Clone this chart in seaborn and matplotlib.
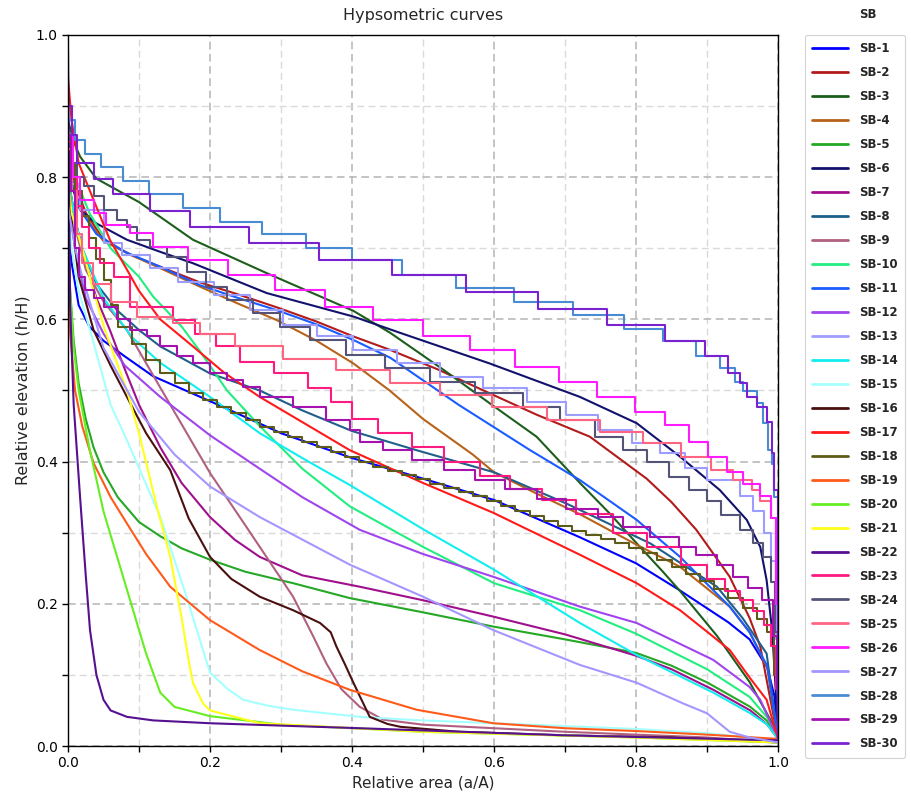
import matplotlib
matplotlib.use("Agg")
import matplotlib.pyplot as plt
from matplotlib.ticker import MultipleLocator
import seaborn as sns

# ---------------- data ----------------
# smooth curves: x = relative area, y = relative elevation
SB1_x = [0, 0.005, 0.015, 0.03, 0.05, 0.08, 0.12, 0.2, 0.3, 0.4, 0.49, 0.6, 0.72, 0.8, 0.86, 0.93, 0.96, 0.985, 0.995, 1.0]
SB1_y = [0.74, 0.68, 0.62, 0.59, 0.57, 0.548, 0.52, 0.485, 0.44, 0.405, 0.379, 0.346, 0.294, 0.257, 0.22, 0.174, 0.15, 0.11, 0.07, 0.01]
SB2_x = [0, 0.01, 0.025, 0.05, 0.09, 0.13, 0.186, 0.24, 0.294, 0.35, 0.402, 0.454, 0.52, 0.594, 0.66, 0.735, 0.815, 0.85, 0.885, 0.932, 0.96, 0.975, 0.993, 1.0]
SB2_y = [0.84, 0.79, 0.75, 0.712, 0.69, 0.674, 0.652, 0.635, 0.617, 0.597, 0.576, 0.557, 0.53, 0.496, 0.466, 0.435, 0.376, 0.343, 0.304, 0.238, 0.18, 0.14, 0.046, 0.01]
SB3_x = [0, 0.008, 0.017, 0.04, 0.1, 0.176, 0.28, 0.402, 0.454, 0.529, 0.594, 0.66, 0.721, 0.763, 0.801, 0.838, 0.862, 0.914, 0.96, 0.993, 1.0]
SB3_y = [0.88, 0.85, 0.829, 0.798, 0.765, 0.712, 0.665, 0.612, 0.581, 0.529, 0.482, 0.435, 0.37, 0.327, 0.285, 0.245, 0.218, 0.155, 0.09, 0.03, 0.01]
SB4_x = [0, 0.01, 0.02, 0.05, 0.09, 0.13, 0.186, 0.24, 0.294, 0.35, 0.402, 0.453, 0.5, 0.57, 0.6, 0.66, 0.721, 0.801, 0.862, 0.932, 0.96, 0.985, 1.0]
SB4_y = [0.82, 0.78, 0.75, 0.71, 0.69, 0.672, 0.646, 0.622, 0.599, 0.57, 0.538, 0.5, 0.46, 0.41, 0.385, 0.355, 0.326, 0.283, 0.252, 0.196, 0.16, 0.11, 0.01]
SB5_x = [0, 0.003, 0.008, 0.015, 0.025, 0.036, 0.05, 0.07, 0.1, 0.13, 0.16, 0.2, 0.25, 0.317, 0.397, 0.5, 0.599, 0.7, 0.8, 0.85, 0.901, 0.961, 0.985, 1.0]
SB5_y = [0.72, 0.64, 0.57, 0.51, 0.46, 0.42, 0.385, 0.35, 0.315, 0.295, 0.278, 0.262, 0.245, 0.229, 0.208, 0.188, 0.168, 0.15, 0.131, 0.113, 0.089, 0.055, 0.035, 0.01]
SB6_x = [0, 0.008, 0.017, 0.04, 0.083, 0.13, 0.176, 0.28, 0.402, 0.468, 0.594, 0.721, 0.801, 0.862, 0.918, 0.956, 0.975, 0.984, 0.992, 0.996, 1.0]
SB6_y = [0.82, 0.78, 0.754, 0.735, 0.712, 0.695, 0.679, 0.637, 0.604, 0.581, 0.538, 0.491, 0.454, 0.407, 0.36, 0.318, 0.28, 0.233, 0.16, 0.093, 0.01]
SB7_x = [0, 0.01, 0.025, 0.04, 0.059, 0.08, 0.1, 0.13, 0.16, 0.2, 0.235, 0.27, 0.33, 0.411, 0.5, 0.599, 0.7, 0.8, 0.85, 0.909, 0.961, 0.985, 1.0]
SB7_y = [0.8, 0.74, 0.68, 0.63, 0.585, 0.53, 0.48, 0.42, 0.37, 0.322, 0.29, 0.266, 0.24, 0.224, 0.205, 0.182, 0.157, 0.127, 0.108, 0.079, 0.05, 0.03, 0.01]
SB8_x = [0, 0.01, 0.02, 0.04, 0.069, 0.1, 0.13, 0.2, 0.27, 0.33, 0.4, 0.491, 0.6, 0.702, 0.82, 0.914, 0.95, 0.984, 1.0]
SB8_y = [0.8, 0.74, 0.70, 0.65, 0.613, 0.585, 0.562, 0.524, 0.50, 0.472, 0.443, 0.416, 0.385, 0.341, 0.285, 0.224, 0.18, 0.13, 0.01]
SB9_x = [0, 0.01, 0.025, 0.05, 0.083, 0.13, 0.2, 0.25, 0.317, 0.345, 0.364, 0.385, 0.411, 0.444, 0.5, 0.6, 0.7, 0.8, 0.9, 1.0]
SB9_y = [0.8, 0.73, 0.67, 0.625, 0.585, 0.504, 0.384, 0.31, 0.21, 0.155, 0.116, 0.08, 0.055, 0.037, 0.03, 0.025, 0.02, 0.016, 0.012, 0.005]
SB10_x = [0, 0.01, 0.03, 0.06, 0.1, 0.12, 0.16, 0.186, 0.224, 0.27, 0.33, 0.397, 0.5, 0.6, 0.721, 0.8, 0.9, 0.96, 0.985, 1.0]
SB10_y = [0.86, 0.80, 0.75, 0.70, 0.66, 0.632, 0.59, 0.555, 0.50, 0.45, 0.39, 0.337, 0.28, 0.229, 0.191, 0.158, 0.108, 0.069, 0.04, 0.01]
SB11_x = [0, 0.01, 0.02, 0.04, 0.08, 0.13, 0.186, 0.24, 0.294, 0.35, 0.402, 0.454, 0.55, 0.651, 0.721, 0.801, 0.862, 0.932, 0.96, 0.985, 1.0]
SB11_y = [0.82, 0.78, 0.75, 0.72, 0.695, 0.674, 0.648, 0.63, 0.613, 0.593, 0.571, 0.546, 0.48, 0.416, 0.374, 0.318, 0.266, 0.196, 0.16, 0.112, 0.01]
SB12_x = [0, 0.01, 0.025, 0.05, 0.08, 0.13, 0.2, 0.27, 0.33, 0.411, 0.5, 0.599, 0.721, 0.801, 0.909, 0.96, 0.975, 1.0]
SB12_y = [0.78, 0.7, 0.63, 0.58, 0.535, 0.491, 0.437, 0.39, 0.35, 0.304, 0.27, 0.238, 0.196, 0.173, 0.121, 0.083, 0.065, 0.01]
SB14_x = [0, 0.01, 0.02, 0.05, 0.09, 0.13, 0.2, 0.27, 0.33, 0.397, 0.5, 0.6, 0.721, 0.801, 0.909, 0.961, 0.985, 1.0]
SB14_y = [0.8, 0.74, 0.70, 0.63, 0.575, 0.539, 0.491, 0.44, 0.405, 0.367, 0.305, 0.248, 0.173, 0.128, 0.075, 0.046, 0.03, 0.01]
SB15_x = [0, 0.005, 0.015, 0.031, 0.06, 0.083, 0.13, 0.167, 0.2, 0.225, 0.247, 0.28, 0.317, 0.411, 0.5, 0.6, 0.7, 0.8, 0.9, 1.0]
SB15_y = [0.76, 0.70, 0.64, 0.585, 0.48, 0.43, 0.322, 0.21, 0.103, 0.08, 0.065, 0.057, 0.051, 0.041, 0.036, 0.032, 0.028, 0.024, 0.018, 0.008]
SB16_x = [0, 0.005, 0.015, 0.036, 0.06, 0.083, 0.11, 0.144, 0.17, 0.2, 0.23, 0.27, 0.317, 0.355, 0.37, 0.378, 0.39, 0.402, 0.411, 0.425, 0.45, 0.468, 0.55, 0.7, 0.85, 1.0]
SB16_y = [0.82, 0.74, 0.66, 0.585, 0.535, 0.491, 0.44, 0.388, 0.32, 0.266, 0.235, 0.21, 0.191, 0.173, 0.16, 0.14, 0.115, 0.089, 0.07, 0.041, 0.031, 0.027, 0.02, 0.015, 0.012, 0.005]
SB17_x = [0, 0.005, 0.015, 0.036, 0.059, 0.083, 0.1, 0.13, 0.176, 0.22, 0.27, 0.397, 0.5, 0.599, 0.721, 0.801, 0.862, 0.901, 0.932, 0.961, 0.984, 1.0]
SB17_y = [0.94, 0.88, 0.82, 0.768, 0.712, 0.67, 0.64, 0.60, 0.562, 0.525, 0.491, 0.416, 0.37, 0.328, 0.269, 0.229, 0.191, 0.16, 0.135, 0.095, 0.065, 0.01]
SB19_x = [0, 0.003, 0.01, 0.02, 0.036, 0.06, 0.083, 0.11, 0.144, 0.2, 0.27, 0.33, 0.397, 0.491, 0.599, 0.7, 0.801, 0.9, 1.0]
SB19_y = [0.66, 0.58, 0.5, 0.45, 0.398, 0.35, 0.313, 0.27, 0.224, 0.177, 0.135, 0.105, 0.079, 0.051, 0.032, 0.025, 0.021, 0.016, 0.01]
SB20_x = [0, 0.003, 0.008, 0.015, 0.03, 0.05, 0.083, 0.11, 0.13, 0.15, 0.2, 0.3, 0.5, 0.8, 1.0]
SB20_y = [0.72, 0.64, 0.56, 0.5, 0.42, 0.33, 0.22, 0.13, 0.075, 0.055, 0.042, 0.03, 0.02, 0.012, 0.005]
SB21_x = [0, 0.005, 0.02, 0.036, 0.052, 0.083, 0.1, 0.125, 0.144, 0.16, 0.17, 0.176, 0.19, 0.2, 0.27, 0.5, 0.8, 1.0]
SB21_y = [0.8, 0.75, 0.70, 0.64, 0.585, 0.50, 0.44, 0.337, 0.266, 0.18, 0.12, 0.089, 0.06, 0.05, 0.032, 0.02, 0.012, 0.005]
SB22_x = [0, 0.001, 0.003, 0.008, 0.017, 0.025, 0.031, 0.04, 0.05, 0.06, 0.083, 0.12, 0.2, 0.411, 0.7, 1.0]
SB22_y = [0.98, 0.85, 0.62, 0.48, 0.35, 0.24, 0.163, 0.1, 0.065, 0.05, 0.041, 0.036, 0.032, 0.025, 0.015, 0.008]
SB27_x = [0, 0.01, 0.02, 0.05, 0.1, 0.15, 0.2, 0.27, 0.397, 0.5, 0.599, 0.721, 0.801, 0.866, 0.9, 0.932, 0.96, 1.0]
SB27_y = [0.76, 0.70, 0.66, 0.56, 0.47, 0.41, 0.365, 0.322, 0.255, 0.21, 0.163, 0.114, 0.089, 0.06, 0.046, 0.02, 0.012, 0.005]

# stepped curves: x = start of each step, y = level of that step
SB13_x = [0, 0.006, 0.017, 0.05, 0.076, 0.115, 0.155, 0.205, 0.256, 0.303, 0.35, 0.402, 0.463, 0.524, 0.585, 0.646, 0.702, 0.747, 0.794, 0.834, 0.869, 0.9, 0.946, 0.965, 0.98, 0.99, 0.997, 1.0]
SB13_y = [0.84, 0.79, 0.754, 0.707, 0.69, 0.672, 0.653, 0.634, 0.613, 0.592, 0.576, 0.557, 0.538, 0.519, 0.503, 0.484, 0.466, 0.444, 0.426, 0.412, 0.391, 0.374, 0.351, 0.33, 0.30, 0.26, 0.15, 0.01]
SB18_x = [0, 0.01, 0.02, 0.03, 0.04, 0.05, 0.06, 0.07, 0.09, 0.11, 0.13, 0.15, 0.17, 0.19, 0.21, 0.23, 0.25, 0.27, 0.29, 0.31,
          0.33, 0.35, 0.37, 0.39, 0.41, 0.43, 0.45, 0.47, 0.49, 0.51, 0.53, 0.55, 0.57, 0.59, 0.61, 0.63, 0.65, 0.67, 0.69, 0.71,
          0.73, 0.75, 0.77, 0.79, 0.81, 0.83, 0.85, 0.87, 0.89, 0.91, 0.93, 0.95, 0.97, 0.985, 0.995, 1.0]
SB18_y = [0.82, 0.78, 0.745, 0.715, 0.685, 0.655, 0.62, 0.59, 0.565, 0.543, 0.524, 0.51, 0.497, 0.487, 0.477, 0.468, 0.458, 0.449, 0.441, 0.434,
          0.427, 0.42, 0.413, 0.406, 0.399, 0.393, 0.387, 0.381, 0.375, 0.369, 0.363, 0.357, 0.351, 0.345, 0.338, 0.331, 0.324, 0.317, 0.31, 0.303,
          0.297, 0.291, 0.285, 0.279, 0.271, 0.262, 0.252, 0.242, 0.232, 0.221, 0.208, 0.194, 0.178, 0.16, 0.1, 0.01]
SB23_x = [0, 0.005, 0.012, 0.02, 0.03, 0.045, 0.065, 0.087, 0.148, 0.179, 0.209, 0.242, 0.29, 0.338, 0.37, 0.40, 0.437, 0.484, 0.529, 0.58,
          0.623, 0.667, 0.716, 0.768, 0.815, 0.864, 0.9, 0.925, 0.946, 0.965, 0.98, 0.99, 0.997, 1.0]
SB23_y = [0.85, 0.80, 0.76, 0.73, 0.70, 0.68, 0.66, 0.618, 0.599, 0.58, 0.562, 0.54, 0.524, 0.503, 0.484, 0.46, 0.44, 0.42, 0.40, 0.38,
          0.362, 0.346, 0.327, 0.30, 0.28, 0.255, 0.235, 0.218, 0.205, 0.19, 0.17, 0.14, 0.08, 0.01]
SB24_x = [0, 0.005, 0.012, 0.022, 0.036, 0.05, 0.069, 0.083, 0.097, 0.115, 0.139, 0.167, 0.195, 0.224, 0.261, 0.299, 0.341, 0.392, 0.446, 0.51,
          0.573, 0.641, 0.693, 0.742, 0.782, 0.815, 0.846, 0.875, 0.9, 0.92, 0.946, 0.965, 0.979, 0.99, 0.996, 1.0]
SB24_y = [0.86, 0.82, 0.80, 0.787, 0.773, 0.754, 0.74, 0.73, 0.712, 0.702, 0.688, 0.667, 0.646, 0.627, 0.609, 0.59, 0.571, 0.55, 0.531, 0.512,
          0.496, 0.477, 0.459, 0.435, 0.416, 0.40, 0.379, 0.36, 0.345, 0.325, 0.304, 0.285, 0.266, 0.23, 0.16, 0.01]
SB25_x = [0, 0.005, 0.012, 0.02, 0.035, 0.06, 0.097, 0.148, 0.186, 0.235, 0.303, 0.378, 0.454, 0.524, 0.597, 0.674, 0.749, 0.81, 0.864, 0.906,
          0.937, 0.963, 0.975, 0.99, 0.997, 1.0]
SB25_y = [0.84, 0.78, 0.72, 0.68, 0.65, 0.625, 0.604, 0.595, 0.58, 0.562, 0.545, 0.529, 0.51, 0.494, 0.477, 0.459, 0.442, 0.426, 0.407, 0.388,
          0.374, 0.36, 0.345, 0.32, 0.2, 0.01]
SB26_x = [0, 0.007, 0.017, 0.036, 0.054, 0.087, 0.12, 0.169, 0.226, 0.292, 0.362, 0.43, 0.5, 0.566, 0.63, 0.691, 0.745, 0.799, 0.841, 0.874,
          0.902, 0.928, 0.951, 0.975, 0.99, 0.997, 1.0]
SB26_y = [0.86, 0.80, 0.768, 0.749, 0.733, 0.721, 0.702, 0.684, 0.662, 0.641, 0.618, 0.599, 0.576, 0.557, 0.533, 0.512, 0.491, 0.47, 0.451, 0.428,
          0.407, 0.386, 0.369, 0.351, 0.32, 0.2, 0.01]
SB28_x = [0, 0.01, 0.024, 0.046, 0.077, 0.114, 0.162, 0.214, 0.273, 0.335, 0.40, 0.47, 0.547, 0.628, 0.711, 0.783, 0.838, 0.885, 0.918, 0.939,
          0.951, 0.97, 0.979, 0.986, 0.991, 0.995, 1.0]
SB28_y = [0.88, 0.852, 0.833, 0.815, 0.795, 0.776, 0.757, 0.737, 0.72, 0.70, 0.683, 0.662, 0.644, 0.625, 0.606, 0.587, 0.569, 0.548, 0.531, 0.512,
          0.50, 0.482, 0.454, 0.416, 0.397, 0.35, 0.01]
SB29_x = [0, 0.004, 0.01, 0.016, 0.024, 0.036, 0.05, 0.069, 0.087, 0.111, 0.13, 0.153, 0.176, 0.2, 0.224, 0.247, 0.27, 0.317, 0.364, 0.397,
          0.411, 0.444, 0.484, 0.529, 0.573, 0.615, 0.66, 0.702, 0.747, 0.782, 0.82, 0.86, 0.885, 0.914, 0.937, 0.958, 0.978, 0.993, 0.998, 1.0]
SB29_y = [0.86, 0.78, 0.70, 0.66, 0.641, 0.63, 0.618, 0.601, 0.585, 0.576, 0.562, 0.548, 0.539, 0.524, 0.515, 0.505, 0.491, 0.477, 0.459, 0.444,
          0.428, 0.416, 0.402, 0.388, 0.374, 0.362, 0.348, 0.334, 0.322, 0.308, 0.294, 0.28, 0.269, 0.254, 0.238, 0.222, 0.205, 0.155, 0.08, 0.01]
SB30_x = [0, 0.005, 0.013, 0.036, 0.064, 0.115, 0.172, 0.255, 0.353, 0.456, 0.561, 0.662, 0.759, 0.841, 0.897, 0.93, 0.946, 0.956, 0.97, 0.984,
          0.991, 0.995, 1.0]
SB30_y = [0.90, 0.86, 0.82, 0.798, 0.776, 0.752, 0.730, 0.707, 0.683, 0.662, 0.639, 0.615, 0.592, 0.569, 0.548, 0.524, 0.51, 0.491, 0.477, 0.456,
          0.412, 0.36, 0.01]

labels = ["SB-%d" % i for i in range(1, 31)]
colors = ["#0000ff", "#b31b1b", "#1c5e1c", "#b8621a", "#25a825", "#12126e", "#a0108c", "#1f5f8a",
          "#b06080", "#22ee80", "#1a5cff", "#a045ee", "#9d9dff", "#12eeee", "#a6ffff", "#4a1010",
          "#ff1a1a", "#5c5c18", "#ff5a1a", "#66ee22", "#ffff1a", "#561090", "#ff1a80", "#545478",
          "#ff6482", "#ff1aff", "#a496ff", "#4a8cd4", "#a412b0", "#7a22d2"]
xs = [SB1_x, SB2_x, SB3_x, SB4_x, SB5_x, SB6_x, SB7_x, SB8_x, SB9_x, SB10_x, SB11_x, SB12_x, SB13_x, SB14_x, SB15_x,
      SB16_x, SB17_x, SB18_x, SB19_x, SB20_x, SB21_x, SB22_x, SB23_x, SB24_x, SB25_x, SB26_x, SB27_x, SB28_x, SB29_x, SB30_x]
ys = [SB1_y, SB2_y, SB3_y, SB4_y, SB5_y, SB6_y, SB7_y, SB8_y, SB9_y, SB10_y, SB11_y, SB12_y, SB13_y, SB14_y, SB15_y,
      SB16_y, SB17_y, SB18_y, SB19_y, SB20_y, SB21_y, SB22_y, SB23_y, SB24_y, SB25_y, SB26_y, SB27_y, SB28_y, SB29_y, SB30_y]
stepped = {"SB-13", "SB-18", "SB-23", "SB-24", "SB-25", "SB-26", "SB-28", "SB-29", "SB-30"}

# ---------------- figure ----------------
sns.set_theme(style="ticks")
plt.rcParams["font.family"] = ["DejaVu Sans"]

fig = plt.figure(figsize=(9.11, 7.98), dpi=100)
ax = fig.add_axes([68 / 911, 52 / 798, 710 / 911, 711 / 798])

for lab, x, y, c in zip(labels, xs, ys, colors):
    n = min(len(x), len(y))
    kw = {"drawstyle": "steps-post"} if lab in stepped else {}
    sns.lineplot(x=x[:n], y=y[:n], color=c, linewidth=1.5, ax=ax, estimator=None,
                 sort=False, label=lab, **kw)

ax.set_xlim(0, 1)
ax.set_ylim(0, 1)
ax.xaxis.set_major_locator(MultipleLocator(0.2))
ax.yaxis.set_major_locator(MultipleLocator(0.2))
ax.xaxis.set_minor_locator(MultipleLocator(0.1))
ax.yaxis.set_minor_locator(MultipleLocator(0.1))
ax.set_axisbelow(True)
ax.grid(which="major", color="#b4b4b4", linestyle=(0, (5, 3)), linewidth=1.1)
ax.grid(which="minor", color="#dadada", linestyle=(0, (5, 3)), linewidth=1.0)
ax.tick_params(which="both", direction="out", length=4, width=1, colors="black", labelsize=10)
for s in ax.spines.values():
    s.set_color("black")
    s.set_linewidth(1.0)

ax.set_title("Hypsometric curves", fontsize=11.5, pad=11)
ax.set_xlabel("Relative area (a/A)", fontsize=11)
ax.set_ylabel("Relative elevation (h/H)", fontsize=11.5)

handles, labs = ax.get_legend_handles_labels()
leg = ax.legend(handles, labs, loc="upper left", bbox_to_anchor=(805 / 911, 1 - 35 / 798),
                bbox_transform=fig.transFigure, borderaxespad=0,
                prop={"weight": "bold", "size": 8.5}, handlelength=3.0, handletextpad=1.0,
                labelspacing=0.93, frameon=True, fancybox=True, borderpad=0.6)
leg.get_frame().set_edgecolor("#c8c8c8")
leg.get_frame().set_linewidth(0.8)
for h in leg.get_lines():
    h.set_linewidth(2.0)

fig.text(868 / 911, 1 - 15 / 798, "SB", ha="center", va="center", fontsize=8.5, fontweight="bold")

fig.savefig("out.png", dpi=100)
